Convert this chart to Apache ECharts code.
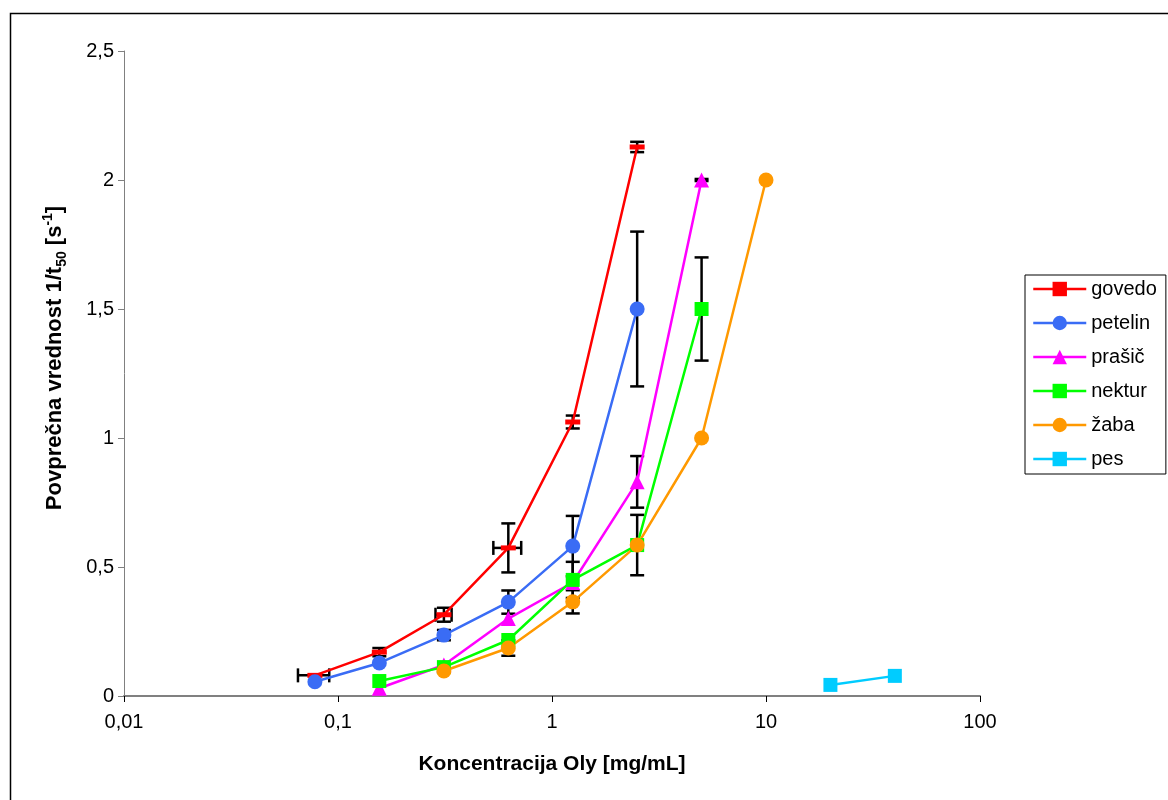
<!DOCTYPE html>
<html>
<head>
<meta charset="utf-8">
<script src="https://cdn.jsdelivr.net/npm/echarts@6/dist/echarts.min.js"></script>
<style>
  html, body { margin: 0; padding: 0; background: #fff; }
  #chart { width: 1168px; height: 800px; }
</style>
</head>
<body>
<div id="chart"></div>
<script>
// ---- data ----
const seriesNames = ['govedo', 'petelin', 'prašič', 'nektur', 'žaba', 'pes'];

const govedoX = [0.078, 0.156, 0.3125, 0.625, 1.25, 2.5];
const govedoY = [0.08, 0.17, 0.315, 0.574, 1.062, 2.128];
const govedoYErr = [0, 0.016, 0.027, 0.095, 0.025, 0.02];
const govedoXErr = [0.013, 0, 0.027, 0.093, 0, 0];

const petelinX = [0.078, 0.156, 0.3125, 0.625, 1.25, 2.5];
const petelinY = [0.055, 0.128, 0.236, 0.364, 0.581, 1.5];
const petelinYErr = [0, 0, 0.02, 0.045, 0.117, 0.3];

const prasicX = [0.156, 0.3125, 0.625, 1.25, 2.5, 5];
const prasicY = [0.03, 0.12, 0.30, 0.44, 0.83, 2.0];
const prasicYErr = [0, 0, 0, 0, 0.1, 0.004];

const nekturX = [0.156, 0.3125, 0.625, 1.25, 2.5, 5];
const nekturY = [0.058, 0.112, 0.217, 0.45, 0.585, 1.5];
const nekturYErr = [0, 0, 0, 0.07, 0.117, 0.2];

const zabaX = [0.3125, 0.625, 1.25, 2.5, 5, 10];
const zabaY = [0.097, 0.186, 0.365, 0.585, 1.0, 2.0];
const zabaYErr = [0, 0.03, 0.045, 0, 0, 0];

const pesX = [20, 40];
const pesY = [0.043, 0.078];

const xTickLabels = ['0,01', '0,1', '1', '10', '100'];
const yTickLabels = ['0', '0,5', '1', '1,5', '2', '2,5'];
const xTitle = 'Koncentracija Oly [mg/mL]';
const yTitleParts = ['Povprečna vrednost 1/t', '50', ' [s', '-1', ']'];

// ---- build ----
const FONT = '"Liberation Sans", Arial, sans-serif';
function pairs(xs, ys) { return xs.map((x, i) => [x, ys[i]]); }

const errData = [];
function addErr(xs, ys, ye, xe) {
  xs.forEach((x, i) => {
    const a = ye ? ye[i] : 0, b = xe ? xe[i] : 0;
    if (a > 0 || b > 0) errData.push([x, ys[i], a, b]);
  });
}
addErr(govedoX, govedoY, govedoYErr, govedoXErr);
addErr(petelinX, petelinY, petelinYErr, null);
addErr(prasicX, prasicY, prasicYErr, null);
addErr(nekturX, nekturY, nekturYErr, null);
addErr(zabaX, zabaY, zabaYErr, null);

function lineSeries(name, data, color, symbol, size) {
  return {
    name: name, type: 'line', data: data, symbol: symbol, symbolSize: size,
    showAllSymbol: true, z: 3,
    lineStyle: { color: color, width: 2.5 },
    itemStyle: { color: color, borderWidth: 0 },
    emphasis: { disabled: true },
    animation: false
  };
}

const chart = echarts.init(document.getElementById('chart'), null, { renderer: 'canvas' });
const option = {
  backgroundColor: '#ffffff',
  animation: false,
  textStyle: { fontFamily: FONT },
  graphic: [{
    type: 'rect', left: 8, top: 11, z: 100, silent: true,
    shape: { x: 0, y: 0, width: 1200, height: 900 },
    style: { fill: 'none', stroke: '#000', lineWidth: 1.5 }
  }, {
    type: 'text', x: 55, y: 358, rotation: Math.PI / 2, silent: true, z: 50,
    style: {
      text: '{t|' + yTitleParts[0] + '}{sub|' + yTitleParts[1] + '}{t|' + yTitleParts[2] + '}{sup|' + yTitleParts[3] + '}{t|' + yTitleParts[4] + '}',
      align: 'center', verticalAlign: 'middle',
      fontFamily: FONT, fontSize: 22, fontWeight: 'bold', fill: '#000',
      rich: {
        t: { fontFamily: FONT, fontSize: 22, fontWeight: 'bold', fill: '#000', lineHeight: 28, verticalAlign: 'middle' },
        sub: { fontFamily: FONT, fontSize: 14, fontWeight: 'bold', fill: '#000', lineHeight: 28, verticalAlign: 'bottom', padding: [8, 0, 0, 0] },
        sup: { fontFamily: FONT, fontSize: 14, fontWeight: 'bold', fill: '#000', lineHeight: 28, verticalAlign: 'top', padding: [0, 0, 6, 0] }
      }
    }
  }],
  grid: { left: 124, right: 188, top: 51, bottom: 104, containLabel: false },
  legend: {
    orient: 'vertical', left: 1025, top: 275,
    padding: [4, 9, 5, 7], itemWidth: 53, itemHeight: 18, itemGap: 14,
    borderColor: '#000', borderWidth: 1, backgroundColor: '#fff',
    lineStyle: { width: 2.5 },
    textStyle: { fontFamily: FONT, fontSize: 20, lineHeight: 20, color: '#000' },
    data: seriesNames
  },
  xAxis: {
    type: 'log', logBase: 10, min: 0.01, max: 100,
    name: xTitle, nameLocation: 'middle', nameGap: 58,
    nameTextStyle: { fontFamily: FONT, fontSize: 21, fontWeight: 'bold', color: '#000' },
    axisLine: { lineStyle: { color: '#808080', width: 2 } },
    axisTick: { show: true, length: 6, lineStyle: { color: '#000' } },
    minorTick: { show: false },
    splitLine: { show: false },
    axisLabel: {
      fontFamily: FONT, fontSize: 20, color: '#000', margin: 16,
      formatter: function (v) {
        const idx = Math.round(Math.log10(v)) + 2;
        return xTickLabels[idx] !== undefined ? xTickLabels[idx] : '';
      }
    }
  },
  yAxis: {
    type: 'value', min: 0, max: 2.5, interval: 0.5,
    axisLine: { show: true, lineStyle: { color: '#808080', width: 1 } },
    axisTick: { show: true, length: 6, lineStyle: { color: '#808080' } },
    splitLine: { show: false },
    axisLabel: {
      fontFamily: FONT, fontSize: 20, color: '#000', margin: 10,
      formatter: function (v) {
        const idx = Math.round(v / 0.5);
        return yTickLabels[idx] !== undefined ? yTickLabels[idx] : '';
      }
    }
  },
  series: [
    {
      type: 'custom', name: 'err', z: 2, silent: true,
      data: errData, encode: { x: 0, y: 1 },
      renderItem: function (params, api) {
        const x = api.value(0), y = api.value(1), ye = api.value(2), xe = api.value(3);
        const c = api.coord([x, y]);
        const children = [];
        const style = { stroke: '#000', lineWidth: 2.5 };
        const cap = 7;
        if (ye > 0) {
          const top = api.coord([x, y + ye]), bot = api.coord([x, y - ye]);
          children.push({ type: 'line', shape: { x1: c[0], y1: top[1], x2: c[0], y2: bot[1] }, style: style });
          children.push({ type: 'line', shape: { x1: c[0] - cap, y1: top[1], x2: c[0] + cap, y2: top[1] }, style: style });
          children.push({ type: 'line', shape: { x1: c[0] - cap, y1: bot[1], x2: c[0] + cap, y2: bot[1] }, style: style });
        }
        if (xe > 0) {
          const l = api.coord([x - xe, y]), r = api.coord([x + xe, y]);
          children.push({ type: 'line', shape: { x1: l[0], y1: c[1], x2: r[0], y2: c[1] }, style: style });
          children.push({ type: 'line', shape: { x1: l[0], y1: c[1] - cap, x2: l[0], y2: c[1] + cap }, style: style });
          children.push({ type: 'line', shape: { x1: r[0], y1: c[1] - cap, x2: r[0], y2: c[1] + cap }, style: style });
        }
        return { type: 'group', children: children };
      }
    },
    lineSeries('govedo', pairs(govedoX, govedoY), '#ff0000', 'rect', [15, 5]),
    lineSeries('petelin', pairs(petelinX, petelinY), '#3a6cf5', 'circle', 15),
    lineSeries('prašič', pairs(prasicX, prasicY), '#ff00ff', 'triangle', 15),
    lineSeries('nektur', pairs(nekturX, nekturY), '#00ff00', 'rect', 14),
    lineSeries('žaba', pairs(zabaX, zabaY), '#ff9900', 'circle', 15),
    lineSeries('pes', pairs(pesX, pesY), '#00ccff', 'rect', 14)
  ]
};
chart.setOption(option);
</script>
</body>
</html>
